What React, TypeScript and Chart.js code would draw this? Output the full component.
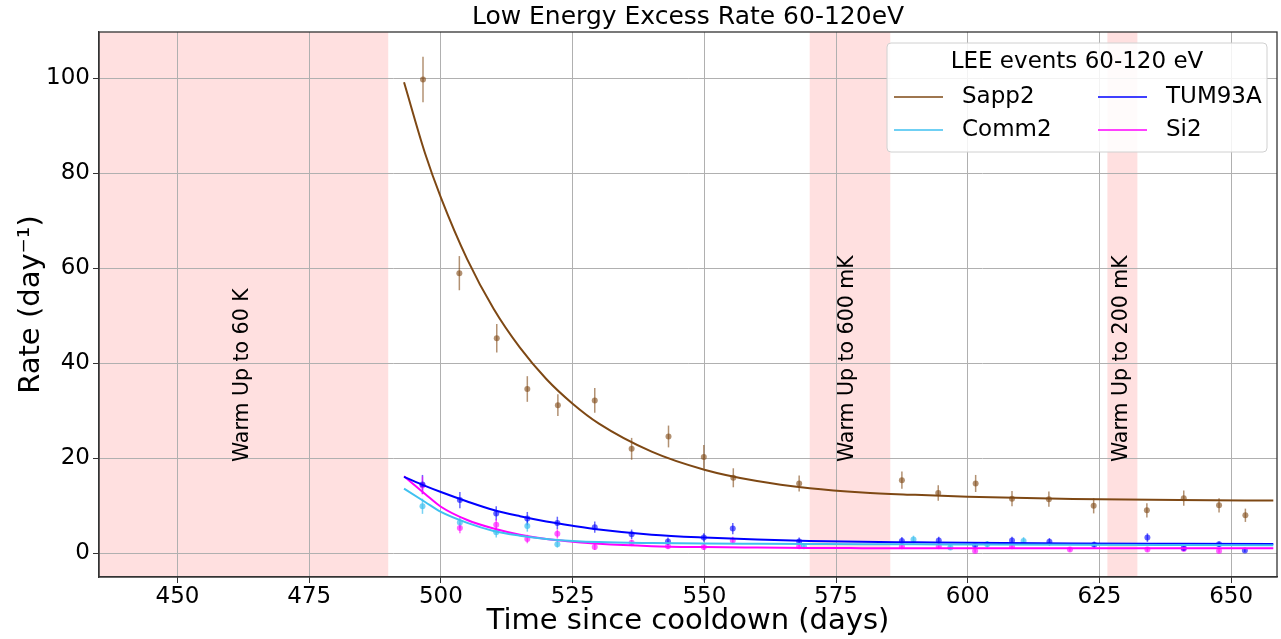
import React, { useEffect, useRef } from "react";
import { Chart, registerables } from "chart.js";

Chart.register(...registerables);

// ---------- data ----------
const titleText = "Low Energy Excess Rate 60-120eV";
const xTitle = "Time since cooldown (days)";
const yTitle = "Rate (day\u207B\u00B9)";
const legendTitle = "LEE events 60-120 eV";

const xTicks = [450, 475, 500, 525, 550, 575, 600, 625, 650];
const yTicks = [0, 20, 40, 60, 80, 100];

const sappDays = [496.6, 503.5, 510.6, 516.4, 522.2, 529.2, 536.2, 543.2, 549.9, 555.5, 568.0, 587.5, 594.4, 601.5, 608.4, 615.4, 623.9, 634.0, 641.0, 647.7, 652.7];
const sappRate = [99.8, 59.0, 45.3, 34.6, 31.2, 32.2, 22.0, 24.6, 20.3, 15.9, 14.7, 15.4, 12.7, 14.7, 11.5, 11.4, 10.0, 9.05, 11.6, 10.1, 8.0];
const sappErr = [4.8, 3.6, 3.0, 2.7, 2.3, 2.6, 2.3, 2.3, 2.5, 2.0, 1.7, 1.8, 1.65, 1.8, 1.6, 1.6, 1.6, 1.5, 1.6, 1.5, 1.4];

const tumDays = [496.5, 503.6, 510.5, 516.4, 522.1, 529.2, 536.2, 543.1, 549.9, 555.4, 568.0, 587.5, 594.5, 601.4, 608.4, 615.5, 624.0, 634.1, 641.0, 647.7, 652.6];
const tumRate = [14.5, 11.2, 8.4, 7.3, 6.4, 5.5, 4.0, 2.5, 3.3, 5.2, 2.5, 2.6, 2.7, 1.7, 2.7, 2.4, 1.8, 3.3, 1.1, 1.9, 0.6];
const tumErr = [2.0, 1.7, 1.5, 1.4, 1.3, 1.2, 1.0, 0.8, 0.9, 1.2, 0.8, 0.8, 0.8, 0.6, 0.8, 0.8, 0.6, 0.9, 0.5, 0.6, 0.4];

const commDays = [496.5, 503.6, 510.5, 516.4, 522.1, 568.9, 589.7, 596.7, 603.7, 610.6];
const commRate = [9.9, 6.5, 4.4, 5.75, 1.9, 1.5, 2.9, 1.2, 1.9, 2.6];
const commErr = [1.6, 1.3, 1.1, 1.2, 0.7, 0.6, 0.8, 0.5, 0.7, 0.8];

const si2Days = [496.5, 503.6, 510.5, 516.4, 522.1, 529.2, 536.2, 543.1, 549.9, 555.4, 568.0, 587.5, 594.5, 601.4, 608.4, 619.4, 634.1, 641.0, 647.7];
const si2Rate = [14.3, 5.3, 6.0, 3.0, 4.1, 1.3, 2.2, 1.5, 1.3, 2.7, 1.5, 1.5, 1.5, 0.5, 1.5, 0.8, 0.8, 0.9, 0.5];
const si2Err = [1.9, 1.1, 1.2, 0.9, 1.0, 0.6, 0.7, 0.6, 0.6, 0.8, 0.6, 0.6, 0.6, 0.35, 0.6, 0.45, 0.45, 0.5, 0.35];

const fitDays = [493, 497, 500, 505, 510, 515, 520, 525, 530, 540, 550, 560, 570, 580, 590, 600, 620, 640, 658];
const sappFit = [99.2, 84.2, 74.9, 61.9, 51.5, 43.3, 36.7, 31.5, 27.3, 21.4, 17.6, 15.2, 13.7, 12.8, 12.3, 11.9, 11.45, 11.2, 11.1];
const tumFit = [16.1, 14.2, 12.9, 10.9, 9.1, 7.8, 6.7, 5.8, 5.0, 3.9, 3.3, 2.9, 2.6, 2.4, 2.3, 2.2, 2.05, 2.0, 1.95];
const commFit = [13.6, 10.8, 8.7, 6.4, 4.7, 3.7, 3.0, 2.6, 2.35, 2.15, 2.05, 2.0, 1.95, 1.9, 1.88, 1.85, 1.8, 1.75, 1.7];
const si2Fit = [16.2, 12.5, 9.8, 7.0, 5.2, 3.9, 3.0, 2.45, 2.0, 1.5, 1.3, 1.2, 1.12, 1.08, 1.06, 1.05, 1.05, 1.05, 1.05];

const warmStart = [430, 570, 626.5];
const warmEnd = [490, 585.3, 632.2];
const warmLabelX = [462.4, 577.2, 629.2];
const warmLabelY = [19.2, 19.2, 19.2];
const warmLabels = ["Warm Up to 60 K", "Warm Up to 600 mK", "Warm Up to 200 mK"];

const seriesNames = ["Sapp2", "Comm2", "TUM93A", "Si2"];
const seriesColors = ["#7e4814", "#3fc1f0", "#0000ff", "#ff00ff"];
const seriesPointColors = ["rgba(126,72,20,0.6)", "rgba(63,193,240,0.7)", "rgba(0,0,255,0.6)", "rgba(255,0,255,0.6)"];

const X_MIN = 435.1;
const X_MAX = 658.7;
const Y_MIN = -5;
const Y_MAX = 109.8;

const FONT = "'DejaVu Sans', sans-serif";

const pts = (xs: number[], ys: number[]) => xs.map((x, i) => ({ x, y: ys[i] }));

const errorSets = [
  { xs: sappDays, ys: sappRate, es: sappErr, c: 0 },
  { xs: commDays, ys: commRate, es: commErr, c: 1 },
  { xs: tumDays, ys: tumRate, es: tumErr, c: 2 },
  { xs: si2Days, ys: si2Rate, es: si2Err, c: 3 },
];

const decorPlugin = {
  id: "decor",
  beforeDraw(chart: any) {
    const { ctx, chartArea: a, scales } = chart;
    const x = scales.x;
    ctx.save();
    ctx.beginPath();
    ctx.rect(a.left, a.top, a.right - a.left, a.bottom - a.top);
    ctx.clip();
    ctx.fillStyle = "rgba(255,0,0,0.12)";
    for (let i = 0; i < warmStart.length; i++) {
      const x0 = x.getPixelForValue(warmStart[i]);
      const x1 = x.getPixelForValue(warmEnd[i]);
      ctx.fillRect(x0, a.top, x1 - x0, a.bottom - a.top);
    }
    ctx.restore();
  },
  beforeDatasetsDraw(chart: any) {
    const { ctx, chartArea: a, scales } = chart;
    const x = scales.x;
    const y = scales.y;
    ctx.save();
    ctx.beginPath();
    ctx.rect(a.left, a.top, a.right - a.left, a.bottom - a.top);
    ctx.clip();
    ctx.lineWidth = 1.5;
    for (const s of errorSets) {
      ctx.strokeStyle = seriesPointColors[s.c];
      for (let i = 0; i < s.xs.length; i++) {
        const px = x.getPixelForValue(s.xs[i]);
        ctx.beginPath();
        ctx.moveTo(px, y.getPixelForValue(s.ys[i] - s.es[i]));
        ctx.lineTo(px, y.getPixelForValue(s.ys[i] + s.es[i]));
        ctx.stroke();
      }
    }
    // warm-up labels
    ctx.fillStyle = "#000";
    ctx.font = `20.5px ${FONT}`;
    ctx.textBaseline = "middle";
    ctx.textAlign = "left";
    for (let i = 0; i < warmLabels.length; i++) {
      const px = x.getPixelForValue(warmLabelX[i]);
      const py = y.getPixelForValue(warmLabelY[i]);
      ctx.save();
      ctx.translate(px, py);
      ctx.rotate(-Math.PI / 2);
      ctx.fillText(warmLabels[i], 0, 0);
      ctx.restore();
    }
    ctx.restore();
  },
  afterDraw(chart: any) {
    const { ctx, chartArea: a } = chart;
    ctx.save();
    // frame
    ctx.strokeStyle = "#333";
    ctx.lineWidth = 1.3;
    ctx.strokeRect(a.left, a.top, a.right - a.left, a.bottom - a.top);
    // title
    ctx.fillStyle = "#000";
    ctx.textAlign = "center";
    ctx.textBaseline = "middle";
    ctx.font = `25px ${FONT}`;
    ctx.fillText(titleText, (a.left + a.right) / 2, 17);
    // axis titles
    ctx.font = `29px ${FONT}`;
    ctx.fillText(xTitle, (a.left + a.right) / 2, 621);
    ctx.save();
    ctx.translate(31, (a.top + a.bottom) / 2);
    ctx.rotate(-Math.PI / 2);
    ctx.fillText(yTitle, 0, 0);
    ctx.restore();
    // legend
    const bx = a.right - 390;
    const by = a.top + 11;
    const bw = 380;
    const bh = 109;
    ctx.beginPath();
    const r = 4;
    ctx.moveTo(bx + r, by);
    ctx.arcTo(bx + bw, by, bx + bw, by + bh, r);
    ctx.arcTo(bx + bw, by + bh, bx, by + bh, r);
    ctx.arcTo(bx, by + bh, bx, by, r);
    ctx.arcTo(bx, by, bx + bw, by, r);
    ctx.closePath();
    ctx.fillStyle = "rgba(255,255,255,0.85)";
    ctx.fill();
    ctx.strokeStyle = "#d0d0d0";
    ctx.lineWidth = 1;
    ctx.stroke();
    ctx.fillStyle = "#000";
    ctx.font = `23px ${FONT}`;
    ctx.textAlign = "center";
    ctx.fillText(legendTitle, bx + bw / 2, by + 19);
    ctx.textAlign = "left";
    const colX = [bx + 7, bx + 211];
    const rowY = [by + 54, by + 87];
    for (let i = 0; i < seriesNames.length; i++) {
      const col = Math.floor(i / 2);
      const row = i % 2;
      ctx.strokeStyle = seriesColors[i];
      ctx.lineWidth = 1.5;
      ctx.beginPath();
      ctx.moveTo(colX[col], rowY[row]);
      ctx.lineTo(colX[col] + 49, rowY[row]);
      ctx.stroke();
      ctx.fillStyle = "#000";
      ctx.fillText(seriesNames[i], colX[col] + 68, rowY[row]);
    }
    ctx.restore();
  },
};

export default function App() {
  const ref = useRef<HTMLCanvasElement>(null);
  useEffect(() => {
    document.body.style.margin = "0";
    const canvas = ref.current!;
    const fits = [sappFit, commFit, tumFit, si2Fit];
    const raw = [
      [sappDays, sappRate],
      [commDays, commRate],
      [tumDays, tumRate],
      [si2Days, si2Rate],
    ];
    const datasets: any[] = [];
    for (let i = 0; i < 4; i++) {
      datasets.push({
        label: seriesNames[i] + " fit",
        data: pts(fitDays, fits[i]),
        showLine: true,
        borderColor: seriesColors[i],
        borderWidth: 2,
        pointRadius: 0,
        cubicInterpolationMode: "monotone",
        fill: false,
        order: 1,
      });
    }
    for (let i = 0; i < 4; i++) {
      datasets.push({
        label: seriesNames[i],
        data: pts(raw[i][0] as number[], raw[i][1] as number[]),
        showLine: false,
        pointRadius: 3,
        pointBorderWidth: 0,
        backgroundColor: seriesPointColors[i],
        borderColor: seriesPointColors[i],
        order: 2,
      });
    }
    const tickFont = { family: FONT, size: 23 };
    const chart = new Chart(canvas, {
      type: "scatter",
      data: { datasets },
      plugins: [decorPlugin],
      options: {
        animation: false,
        responsive: false,
        devicePixelRatio: 1,
        layout: { padding: { top: 32, right: 1, left: 0, bottom: 0 } },
        plugins: { legend: { display: false }, tooltip: { enabled: false }, title: { display: false } },
        scales: {
          x: {
            type: "linear",
            min: X_MIN,
            max: X_MAX,
            afterBuildTicks: (s: any) => {
              s.ticks = xTicks.map((v) => ({ value: v }));
            },
            afterFit: (s: any) => {
              s.height = 62;
            },
            ticks: { font: tickFont, color: "#000", padding: 0, maxRotation: 0, autoSkip: false, callback: (v: any) => String(v) },
            grid: { color: "#b0b0b0", lineWidth: 1, tickLength: 6, tickColor: "#333" },
            border: { color: "#333", width: 1.3 },
          },
          y: {
            type: "linear",
            min: Y_MIN,
            max: Y_MAX,
            afterBuildTicks: (s: any) => {
              s.ticks = yTicks.map((v) => ({ value: v }));
            },
            afterFit: (s: any) => {
              s.width = 99;
            },
            ticks: { font: tickFont, color: "#000", padding: 3, autoSkip: false, callback: (v: any) => String(v) },
            grid: { color: "#b0b0b0", lineWidth: 1, tickLength: 6, tickColor: "#333" },
            border: { color: "#333", width: 1.3 },
          },
        },
      },
    });
    return () => chart.destroy();
  }, []);
  return <canvas ref={ref} width={1281} height={639} style={{ display: "block" }} />;
}
